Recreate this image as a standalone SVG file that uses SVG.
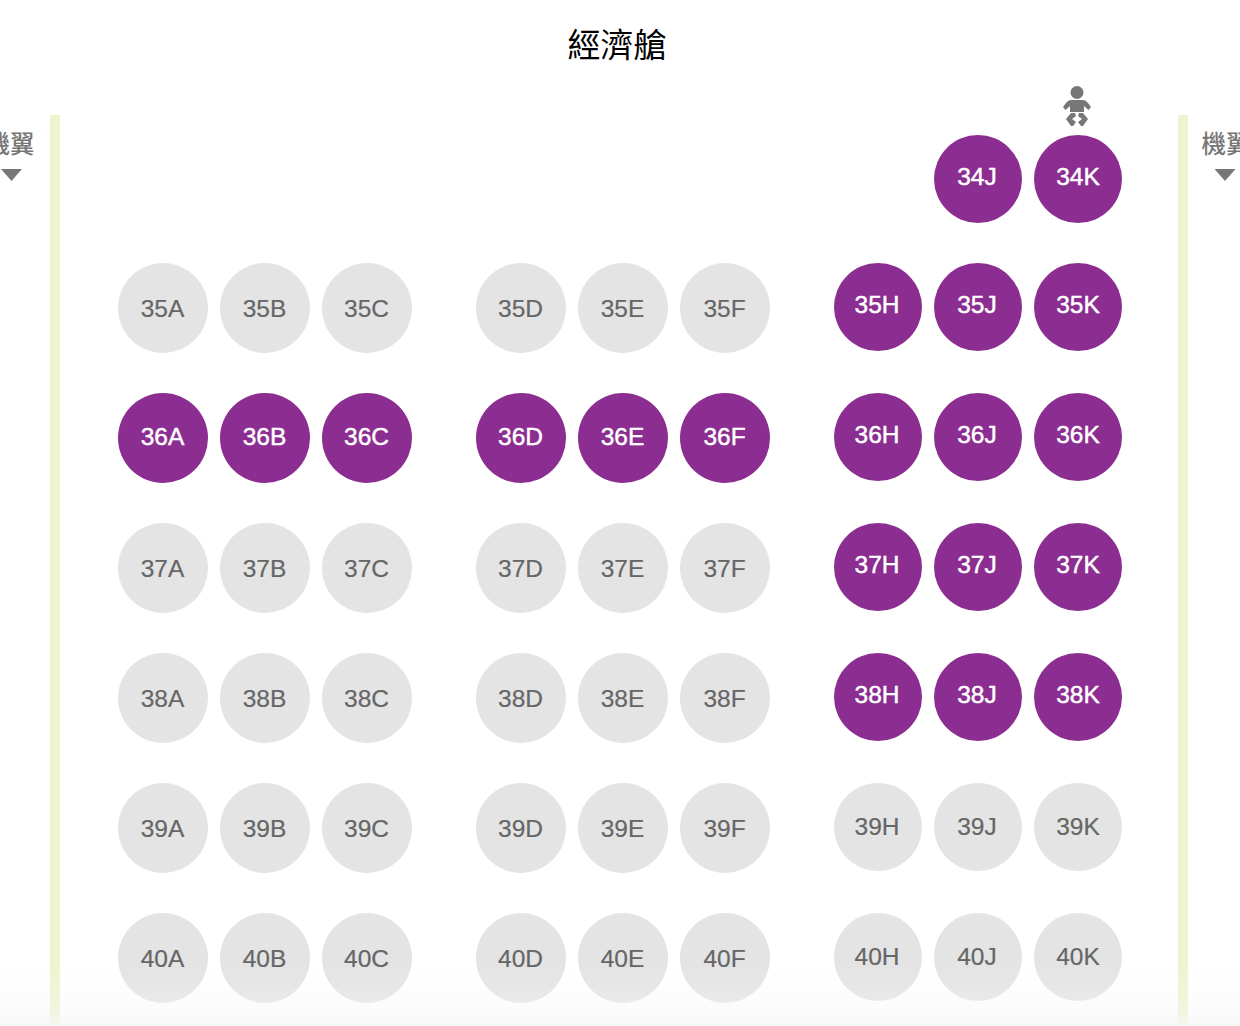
<svg xmlns="http://www.w3.org/2000/svg" width="1240" height="1026" viewBox="0 0 1240 1026">
<style>
text{font-family:"Liberation Sans","Noto Sans CJK TC",sans-serif;text-anchor:middle;font-size:24.500px}
.g circle{fill:#e4e4e4}.g text{fill:#666;stroke:#666;stroke-width:.2px}
.p circle{fill:#8c2d91}.p text{fill:#fff;stroke:#fff;stroke-width:.45px}
.bar{fill:#f0f3cf}.wing{fill:#777;font-family:"Noto Sans CJK TC",sans-serif;font-weight:500}
.tri{fill:#777}
</style>
<defs><linearGradient id="fade" x1="0" y1="0" x2="0" y2="1"><stop offset="0" stop-color="#f6f6f6" stop-opacity="0"/><stop offset=".75" stop-color="#f6f6f6" stop-opacity=".4"/><stop offset="1" stop-color="#f6f6f6" stop-opacity=".85"/></linearGradient></defs>
<rect width="1240" height="1026" fill="#fff"/>
<text x="617" y="57" style="font-family:'Noto Sans CJK TC',sans-serif;font-size:33px;fill:#000">經濟艙</text>
<rect class="bar" x="50" y="115" width="10" height="911"/>
<rect class="bar" x="1178" y="115" width="10" height="911"/>
<text class="wing" x="10" y="153">機翼</text>
<polygon class="tri" points="1,169 22,169 11.5,181"/>
<text class="wing" x="1226" y="153">機翼</text>
<polygon class="tri" points="1214.500,169 1235.500,169 1225,181"/>
<g id="infant" fill="#777">
<circle cx="1077" cy="92.500" r="6.500"/>
<path d="M1071 100H1083Q1086 100 1088 103L1091 107L1088.500 110L1084 106L1084 112H1070L1070 106L1065.500 110L1063 107L1066 103Q1068 100 1071 100Z"/>
<path d="M1066 119L1071 113L1075 113L1076 116L1072 119L1076 122L1073 126L1071 126Z"/>
<path d="M1088 119L1083 113L1079 113L1078 116L1082 119L1078 122L1081 126L1083 126Z"/>
</g>
<g id="seat-34J" class="p"><circle cx="978" cy="179" r="44"/><text x="977" y="185">34J</text></g>
<g id="seat-34K" class="p"><circle cx="1078" cy="179" r="44"/><text x="1078" y="185">34K</text></g>
<g id="seat-35A" class="g"><circle cx="163" cy="308" r="45"/><text x="162.500" y="317">35A</text></g>
<g id="seat-35B" class="g"><circle cx="265" cy="308" r="45"/><text x="264.500" y="317">35B</text></g>
<g id="seat-35C" class="g"><circle cx="367" cy="308" r="45"/><text x="366.500" y="317">35C</text></g>
<g id="seat-35D" class="g"><circle cx="521" cy="308" r="45"/><text x="520.500" y="317">35D</text></g>
<g id="seat-35E" class="g"><circle cx="623" cy="308" r="45"/><text x="622.500" y="317">35E</text></g>
<g id="seat-35F" class="g"><circle cx="725" cy="308" r="45"/><text x="724.500" y="317">35F</text></g>
<g id="seat-35H" class="p"><circle cx="878" cy="307" r="44"/><text x="877" y="313">35H</text></g>
<g id="seat-35J" class="p"><circle cx="978" cy="307" r="44"/><text x="977" y="313">35J</text></g>
<g id="seat-35K" class="p"><circle cx="1078" cy="307" r="44"/><text x="1078" y="313">35K</text></g>
<g id="seat-36A" class="p"><circle cx="163" cy="438" r="45"/><text x="162.500" y="445">36A</text></g>
<g id="seat-36B" class="p"><circle cx="265" cy="438" r="45"/><text x="264.500" y="445">36B</text></g>
<g id="seat-36C" class="p"><circle cx="367" cy="438" r="45"/><text x="366.500" y="445">36C</text></g>
<g id="seat-36D" class="p"><circle cx="521" cy="438" r="45"/><text x="520.500" y="445">36D</text></g>
<g id="seat-36E" class="p"><circle cx="623" cy="438" r="45"/><text x="622.500" y="445">36E</text></g>
<g id="seat-36F" class="p"><circle cx="725" cy="438" r="45"/><text x="724.500" y="445">36F</text></g>
<g id="seat-36H" class="p"><circle cx="878" cy="437" r="44"/><text x="877" y="443">36H</text></g>
<g id="seat-36J" class="p"><circle cx="978" cy="437" r="44"/><text x="977" y="443">36J</text></g>
<g id="seat-36K" class="p"><circle cx="1078" cy="437" r="44"/><text x="1078" y="443">36K</text></g>
<g id="seat-37A" class="g"><circle cx="163" cy="568" r="45"/><text x="162.500" y="577">37A</text></g>
<g id="seat-37B" class="g"><circle cx="265" cy="568" r="45"/><text x="264.500" y="577">37B</text></g>
<g id="seat-37C" class="g"><circle cx="367" cy="568" r="45"/><text x="366.500" y="577">37C</text></g>
<g id="seat-37D" class="g"><circle cx="521" cy="568" r="45"/><text x="520.500" y="577">37D</text></g>
<g id="seat-37E" class="g"><circle cx="623" cy="568" r="45"/><text x="622.500" y="577">37E</text></g>
<g id="seat-37F" class="g"><circle cx="725" cy="568" r="45"/><text x="724.500" y="577">37F</text></g>
<g id="seat-37H" class="p"><circle cx="878" cy="567" r="44"/><text x="877" y="573">37H</text></g>
<g id="seat-37J" class="p"><circle cx="978" cy="567" r="44"/><text x="977" y="573">37J</text></g>
<g id="seat-37K" class="p"><circle cx="1078" cy="567" r="44"/><text x="1078" y="573">37K</text></g>
<g id="seat-38A" class="g"><circle cx="163" cy="698" r="45"/><text x="162.500" y="707">38A</text></g>
<g id="seat-38B" class="g"><circle cx="265" cy="698" r="45"/><text x="264.500" y="707">38B</text></g>
<g id="seat-38C" class="g"><circle cx="367" cy="698" r="45"/><text x="366.500" y="707">38C</text></g>
<g id="seat-38D" class="g"><circle cx="521" cy="698" r="45"/><text x="520.500" y="707">38D</text></g>
<g id="seat-38E" class="g"><circle cx="623" cy="698" r="45"/><text x="622.500" y="707">38E</text></g>
<g id="seat-38F" class="g"><circle cx="725" cy="698" r="45"/><text x="724.500" y="707">38F</text></g>
<g id="seat-38H" class="p"><circle cx="878" cy="697" r="44"/><text x="877" y="703">38H</text></g>
<g id="seat-38J" class="p"><circle cx="978" cy="697" r="44"/><text x="977" y="703">38J</text></g>
<g id="seat-38K" class="p"><circle cx="1078" cy="697" r="44"/><text x="1078" y="703">38K</text></g>
<g id="seat-39A" class="g"><circle cx="163" cy="828" r="45"/><text x="162.500" y="837">39A</text></g>
<g id="seat-39B" class="g"><circle cx="265" cy="828" r="45"/><text x="264.500" y="837">39B</text></g>
<g id="seat-39C" class="g"><circle cx="367" cy="828" r="45"/><text x="366.500" y="837">39C</text></g>
<g id="seat-39D" class="g"><circle cx="521" cy="828" r="45"/><text x="520.500" y="837">39D</text></g>
<g id="seat-39E" class="g"><circle cx="623" cy="828" r="45"/><text x="622.500" y="837">39E</text></g>
<g id="seat-39F" class="g"><circle cx="725" cy="828" r="45"/><text x="724.500" y="837">39F</text></g>
<g id="seat-39H" class="g"><circle cx="878" cy="827" r="44"/><text x="877" y="835">39H</text></g>
<g id="seat-39J" class="g"><circle cx="978" cy="827" r="44"/><text x="977" y="835">39J</text></g>
<g id="seat-39K" class="g"><circle cx="1078" cy="827" r="44"/><text x="1078" y="835">39K</text></g>
<g id="seat-40A" class="g"><circle cx="163" cy="958" r="45"/><text x="162.500" y="967">40A</text></g>
<g id="seat-40B" class="g"><circle cx="265" cy="958" r="45"/><text x="264.500" y="967">40B</text></g>
<g id="seat-40C" class="g"><circle cx="367" cy="958" r="45"/><text x="366.500" y="967">40C</text></g>
<g id="seat-40D" class="g"><circle cx="521" cy="958" r="45"/><text x="520.500" y="967">40D</text></g>
<g id="seat-40E" class="g"><circle cx="623" cy="958" r="45"/><text x="622.500" y="967">40E</text></g>
<g id="seat-40F" class="g"><circle cx="725" cy="958" r="45"/><text x="724.500" y="967">40F</text></g>
<g id="seat-40H" class="g"><circle cx="878" cy="957" r="44"/><text x="877" y="965">40H</text></g>
<g id="seat-40J" class="g"><circle cx="978" cy="957" r="44"/><text x="977" y="965">40J</text></g>
<g id="seat-40K" class="g"><circle cx="1078" cy="957" r="44"/><text x="1078" y="965">40K</text></g>
<rect x="0" y="968" width="1240" height="58" fill="url(#fade)"/>
</svg>
